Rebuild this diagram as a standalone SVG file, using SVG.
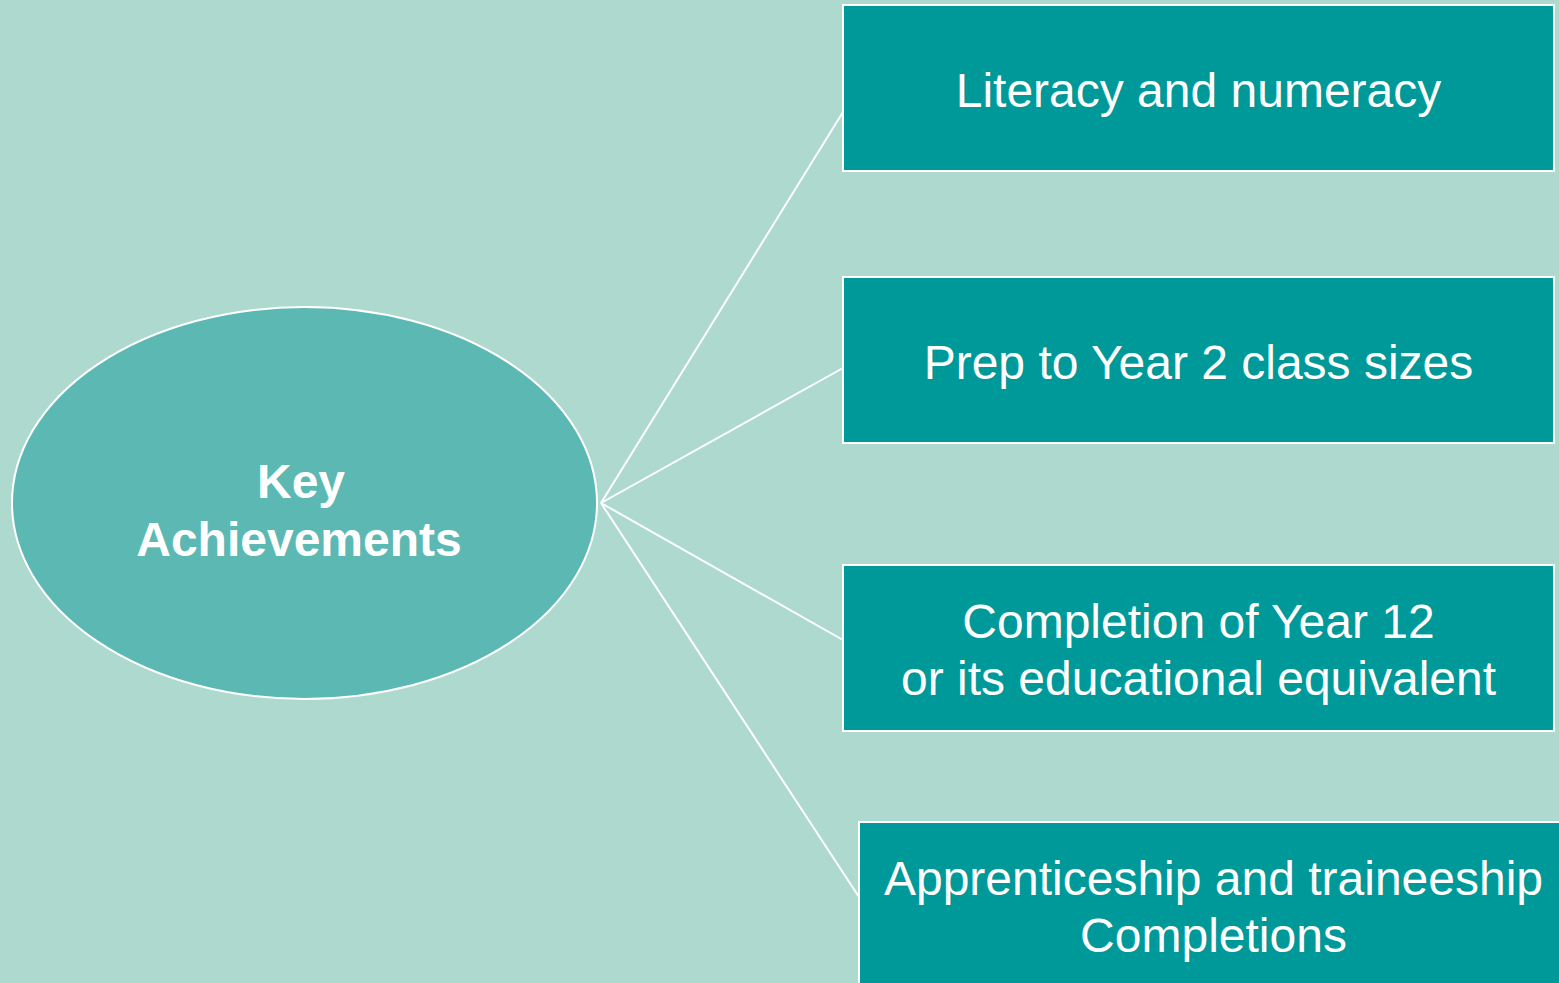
<svg xmlns="http://www.w3.org/2000/svg" width="1559" height="983" viewBox="0 0 1559 983">
<style>
.box{fill:#009999;stroke:#ffffff;stroke-width:2}
.ell{fill:#5BB8B3;stroke:#ffffff;stroke-width:2}
.con{stroke:#ffffff;stroke-width:2;fill:none}
.t{font-family:"Liberation Sans",Arial,sans-serif;font-size:48px;fill:#ffffff;text-anchor:middle}
.b{font-weight:bold}
</style>
<rect x="0" y="0" width="1559" height="983" fill="#AED9CF"/>
<g id="connectors">
<line class="con" x1="601" y1="503" x2="843" y2="112"/>
<line class="con" x1="601" y1="503" x2="843" y2="368"/>
<line class="con" x1="601" y1="503" x2="843" y2="640"/>
<line class="con" x1="601" y1="503" x2="859" y2="897"/>
</g>
<g id="center">
<ellipse class="ell" cx="304.5" cy="503" rx="292.5" ry="196"/>
<text class="t b" x="301" y="498">Key</text>
<text class="t b" x="299" y="556">Achievements</text>
</g>
<g id="literacy">
<rect class="box" x="843" y="5" width="711" height="166"/>
<text class="t" x="1198.5" y="107">Literacy and numeracy</text>
</g>
<g id="classsizes">
<rect class="box" x="843" y="277" width="711" height="166"/>
<text class="t" x="1198.5" y="379">Prep to Year 2 class sizes</text>
</g>
<g id="year12">
<rect class="box" x="843" y="565" width="711" height="166"/>
<text class="t" x="1198.5" y="638">Completion of Year 12</text>
<text class="t" x="1198.5" y="695">or its educational equivalent</text>
</g>
<g id="apprenticeship">
<rect class="box" x="859" y="822" width="711" height="170"/>
<text class="t" x="1213.5" y="895">Apprenticeship and traineeship</text>
<text class="t" x="1213.5" y="952">Completions</text>
</g>
</svg>
